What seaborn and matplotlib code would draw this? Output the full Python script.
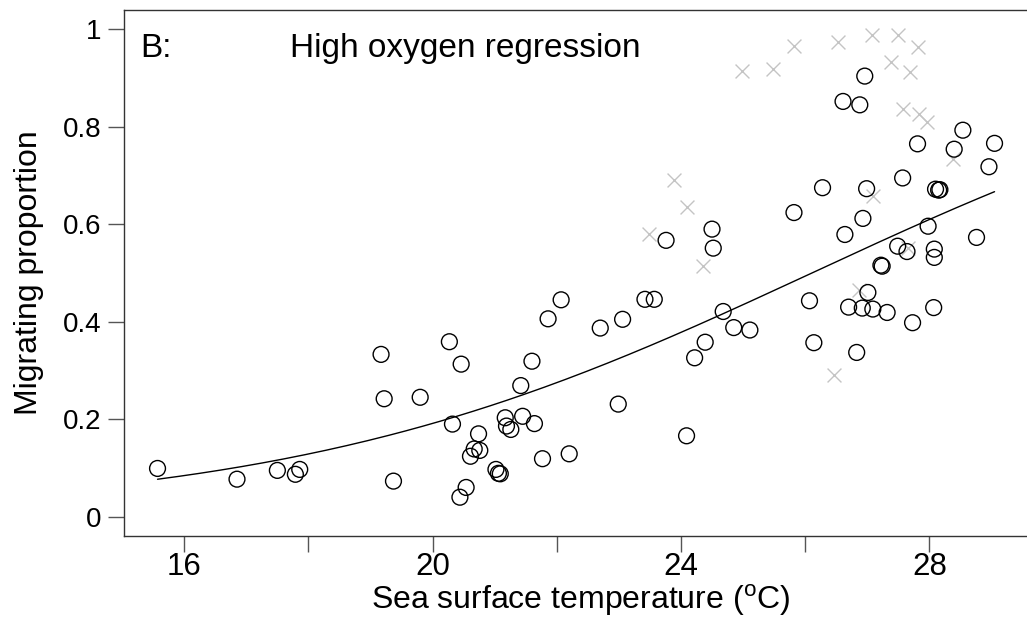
import numpy as np
import pandas as pd
import matplotlib
matplotlib.use("Agg")
import matplotlib.pyplot as plt
import seaborn as sb

"""
migrating proportion vs sea surface temperature, high oxygen regression
"""

# open circles: observations used in the regression
sst_in = [15.57, 16.85, 17.50, 17.79, 17.86, 19.17, 19.22, 19.37, 19.80, 20.27,
          20.32, 20.44, 20.46, 20.54, 20.61, 20.67, 20.74, 20.76, 21.02, 21.06,
          21.09, 21.17, 21.19, 21.26, 21.42, 21.45, 21.60, 21.64, 21.77, 21.86,
          22.07, 22.20, 22.70, 22.99, 23.06, 23.42, 23.57, 23.76, 24.09, 24.22,
          24.39, 24.50, 24.52, 24.68, 24.85, 25.11, 25.82, 26.07, 26.14, 26.28,
          26.61, 26.64, 26.70, 26.83, 26.88, 26.92, 26.93, 26.96, 26.99, 27.01,
          27.09, 27.22, 27.24, 27.32, 27.49, 27.57, 27.64, 27.73, 27.81, 27.98,
          28.07, 28.08, 28.08, 28.10, 28.15, 28.17, 28.40, 28.54, 28.76, 28.96,
          29.05]
prop_in = [0.099, 0.077, 0.095, 0.087, 0.097, 0.333, 0.242, 0.073, 0.245, 0.359,
           0.190, 0.040, 0.313, 0.060, 0.124, 0.139, 0.170, 0.136, 0.097, 0.089,
           0.088, 0.203, 0.186, 0.179, 0.269, 0.206, 0.319, 0.191, 0.119, 0.406,
           0.445, 0.129, 0.387, 0.231, 0.405, 0.446, 0.446, 0.567, 0.166, 0.326,
           0.358, 0.590, 0.551, 0.421, 0.388, 0.383, 0.624, 0.443, 0.357, 0.675,
           0.852, 0.579, 0.430, 0.337, 0.845, 0.428, 0.612, 0.904, 0.673, 0.460,
           0.426, 0.516, 0.514, 0.419, 0.555, 0.695, 0.544, 0.398, 0.765, 0.596,
           0.429, 0.549, 0.532, 0.672, 0.670, 0.671, 0.754, 0.793, 0.573, 0.718,
           0.766]

# grey crosses: excluded observations
sst_out = [23.49, 23.89, 24.09, 24.35, 24.99, 25.49, 25.82, 26.47, 26.53, 26.87,
           27.07, 27.10, 27.39, 27.50, 27.57, 27.66, 27.69, 27.82, 27.84, 27.96,
           28.38]
prop_out = [0.579, 0.691, 0.636, 0.515, 0.914, 0.919, 0.966, 0.291, 0.974, 0.465,
            0.988, 0.658, 0.933, 0.988, 0.837, 0.551, 0.913, 0.964, 0.826, 0.810,
            0.734]

# fitted logistic regression (logit scale)
b0 = -6.159
b1 = 0.2359

xticks = [16, 18, 20, 22, 24, 26, 28]
xticklabels = ["16", "", "20", "", "24", "", "28"]
yticks = [0, 0.2, 0.4, 0.6, 0.8, 1.0]
yticklabels = ["0", "0.2", "0.4", "0.6", "0.8", "1"]

sb.set_style("ticks")
plt.rcParams['font.family'] = ['Liberation Sans', 'DejaVu Sans']
plt.rcParams['mathtext.fontset'] = 'custom'
plt.rcParams['mathtext.rm'] = 'Liberation Sans'
plt.rcParams['text.color'] = 'black'
plt.rcParams['axes.labelcolor'] = 'black'
plt.rcParams['xtick.labelcolor'] = 'black'
plt.rcParams['ytick.labelcolor'] = 'black'

df_in = pd.DataFrame({"sst": sst_in, "prop": prop_in})
df_out = pd.DataFrame({"sst": sst_out, "prop": prop_out})

fig = plt.figure(figsize=[10.27, 6.2], dpi=100)
ax = fig.add_axes([124/1027, 84/620, 914/1027, 526/620])

sb.scatterplot(data=df_out, x="sst", y="prop", marker="x", color="#c4c4c4",
               s=100, linewidth=1.0, ax=ax, zorder=2)
sb.scatterplot(data=df_in, x="sst", y="prop", marker="o", facecolor="none",
               edgecolor="black", s=130, linewidth=1.0, ax=ax, zorder=3)

xs = np.linspace(min(sst_in), max(sst_in), 200)
fit = 1 / (1 + np.exp(-(b0 + b1 * xs)))
sb.lineplot(x=xs, y=fit, color="black", linewidth=1.0, ax=ax, zorder=4)

ax.set_xlim(15.03, 29.75)
ax.set_ylim(-0.0396, 1.0396)
ax.set_xticks(xticks)
ax.set_xticklabels(xticklabels)
ax.set_yticks(yticks)
ax.set_yticklabels(yticklabels)

ax.tick_params(axis='x', length=11.5, width=1, color='#555555', labelcolor='black',
               labelsize=22.5, pad=0)
ax.tick_params(axis='y', length=11.5, width=1, color='#555555', labelcolor='black',
               labelsize=20, pad=5)

for side in ['left', 'top', 'bottom']:
    ax.spines[side].set_visible(True)
    ax.spines[side].set_color('#333333')
    ax.spines[side].set_linewidth(1.0)
ax.spines['right'].set_visible(False)

ax.set_xlabel(r'Sea surface temperature ($^{\mathrm{o}}$C)', fontsize=23, labelpad=0,
              color='black')
ax.set_ylabel('Migrating proportion', fontsize=23, color='black')
ax.yaxis.set_label_coords(-0.0875, 0.5)

ax.text(0.0183, 0.9106, "B:", transform=ax.transAxes, fontsize=24, va='baseline',
        color='black')
ax.text(0.1816, 0.9106, "High oxygen regression", transform=ax.transAxes,
        fontsize=24, va='baseline', color='black')

plt.savefig("out.png", dpi=100)
